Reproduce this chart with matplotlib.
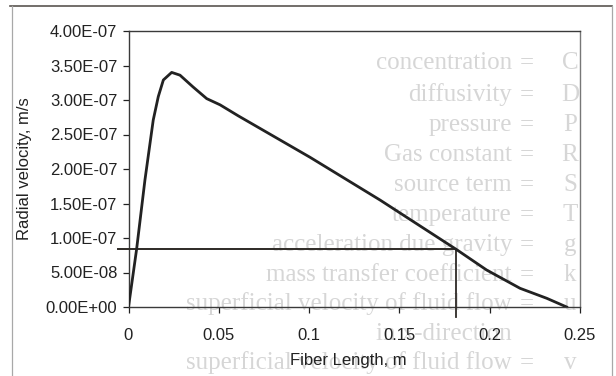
import matplotlib
matplotlib.use("Agg")
import matplotlib.pyplot as plt
from matplotlib.lines import Line2D
from matplotlib.ticker import FuncFormatter

# ── data ────────────────────────────────────────────────────────────────────
fiber_length = [0.0, 0.0045, 0.0091, 0.0137, 0.0165, 0.0193, 0.0239,
                0.0285, 0.0357, 0.0433, 0.0507, 0.0608, 0.1005, 0.1393,
                0.1816, 0.1983, 0.2168, 0.2316, 0.2426]
radial_velocity = [0.0, 8.4e-8, 1.84e-7, 2.71e-7, 3.05e-7, 3.29e-7,
                   3.40e-7, 3.36e-7, 3.19e-7, 3.02e-7, 2.93e-7, 2.77e-7,
                   2.17e-7, 1.55e-7, 8.33e-8, 5.36e-8, 2.71e-8, 1.26e-8, 0.0]

# guide lines drawn on the chart
guide_y = 8.36e-8
guide_x = 0.1816
guide_x_start = -0.0058
guide_y_end = -1.4e-8

x_ticks = [0, 0.05, 0.1, 0.15, 0.2, 0.25]
x_tick_labels = ["0", "0.05", "0.1", "0.15", "0.2", "0.25"]
y_ticks = [0, 5e-8, 1e-7, 1.5e-7, 2e-7, 2.5e-7, 3e-7, 3.5e-7, 4e-7]

# faint show-through text from the back of the scanned page
ghost_symbols = ["C", "D", "P", "R", "S", "T", "g", "k", "u", "", "v"]
ghost_texts = ["concentration", "diffusivity", "pressure", "Gas constant",
               "source term", "temperature", "acceleration due gravity",
               "mass transfer coefficient",
               "superficial velocity of fluid flow", "in x-direction",
               "superficial velocity of fluid flow"]
ghost_rows_px = [63, 95, 125, 155, 185, 215, 245, 275, 304, 334, 363]

W, H = 616, 376
fig = plt.figure(figsize=(W / 100, H / 100), dpi=100)
fig.patch.set_facecolor("white")

# ghost text (behind everything)
ghost_col = "#d6d6d6"
for sym, txt, ypx in zip(ghost_symbols, ghost_texts, ghost_rows_px):
    yf = 1 - ypx / H
    fig.text(512 / W, yf, txt, ha="right", va="center", fontsize=18,
             family="Liberation Serif", color=ghost_col, zorder=-5)
    if sym:
        fig.text(527 / W, yf, "=", ha="center", va="center", fontsize=18,
                 family="Liberation Serif", color=ghost_col, zorder=-5)
        fig.text(570 / W, yf, sym, ha="center", va="center", fontsize=18,
                 family="Liberation Serif", color=ghost_col, zorder=-5)

# outer chart frame (bottom edge is cut off by the scan)
fig.add_artist(Line2D([10 / W, 612 / W], [1 - 6 / H, 1 - 6 / H],
                      transform=fig.transFigure, color="#5a5550", lw=1.2))
fig.add_artist(Line2D([12 / W, 12 / W], [0, 1 - 6 / H],
                      transform=fig.transFigure, color="#a8a8a8", lw=0.9))
fig.add_artist(Line2D([612 / W, 612 / W], [0, 1 - 6 / H],
                      transform=fig.transFigure, color="#a8a8a8", lw=0.9))

ax = fig.add_axes([128.5 / W, 1 - 307 / H, (580 - 128.5) / W, (307 - 31) / H])
ax.patch.set_alpha(0)

ax.plot(fiber_length, radial_velocity, color="#222222", lw=2.0,
        solid_joinstyle="round", zorder=4)
ax.plot([guide_x_start, guide_x], [guide_y, guide_y], color="#2e2a26",
        lw=1.4, clip_on=False, zorder=3)
ax.plot([guide_x, guide_x], [guide_y, guide_y_end], color="#2e2a26",
        lw=1.3, clip_on=False, zorder=3)

ax.set_xlim(0, 0.25)
ax.set_ylim(0, 4e-7)
ax.set_xticks(x_ticks)
ax.set_xticklabels(x_tick_labels)
ax.set_yticks(y_ticks)
ax.yaxis.set_major_formatter(FuncFormatter(lambda v, _: f"{v:.2E}"))

for s in ax.spines.values():
    s.set_color("#3a3a3a")
    s.set_linewidth(1.0)
ax.spines["right"].set_color("#777777")

ax.tick_params(axis="y", direction="out", length=4, width=0.9, pad=4,
               labelsize=12, colors="#222222")
ax.tick_params(axis="x", direction="out", length=4, width=0.9, pad=11,
               labelsize=12, colors="#222222")
for lab in ax.get_xticklabels() + ax.get_yticklabels():
    lab.set_family("Liberation Sans")

fig.text(348 / W, 1 - 361 / H, "Fiber Length, m", ha="center", va="center",
         fontsize=12, family="Liberation Sans", color="#222222")
fig.text(25 / W, 1 - 169 / H, "Radial velocity, m/s", ha="center",
         va="center", rotation=90, fontsize=12, family="Liberation Sans",
         color="#222222")

fig.savefig("out.png", dpi=100)
